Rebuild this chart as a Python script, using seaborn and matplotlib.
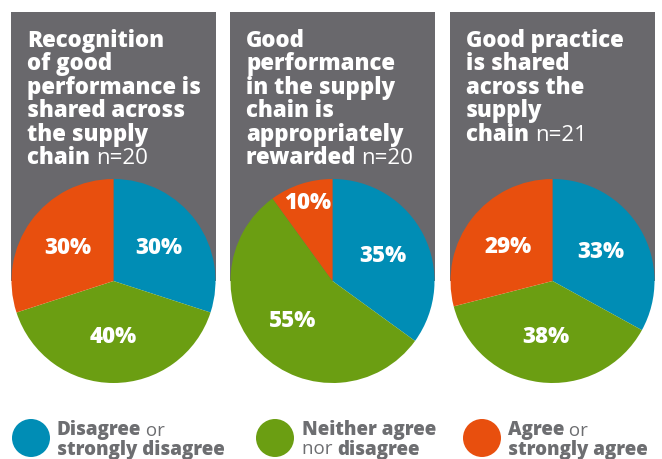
import numpy as np
import matplotlib
matplotlib.use("Agg")
import matplotlib.pyplot as plt
from matplotlib.patches import Rectangle, Ellipse
import seaborn as sns

# ---- data ----
categories = ["Disagree or strongly disagree", "Neither agree nor disagree", "Agree or strongly agree"]
titles = [
    ["Recognition", "of good", "performance is", "shared across", "the supply", "chain"],
    ["Good", "performance", "in the supply", "chain is", "appropriately", "rewarded"],
    ["Good practice", "is shared", "across the", "supply", "chain"],
]
sample_sizes = [20, 20, 21]
recognition_shared = [30, 40, 30]
performance_rewarded = [35, 55, 10]
practice_shared = [33, 38, 29]
panel_values = [recognition_shared, performance_rewarded, practice_shared]

colors = ["#008db5", "#6b9e12", "#e84f0e"]
panel_gray = "#69686c"
text_gray = "#6d6e71"

sns.set_theme(style="white")
plt.rcParams["font.family"] = ["Open Sans", "DejaVu Sans"]

W, H = 662, 459
fig = plt.figure(figsize=(W / 100, H / 100), dpi=100)
fig.patch.set_facecolor("white")
renderer = fig.canvas.get_renderer()


def fx(x):
    return x / W


def fy(y):
    return 1 - y / H


def runs(x, y, parts, size, color):
    """Draw a line made of (text, weight) runs starting at pixel x, baseline y."""
    cur = x
    for txt, weight in parts:
        t = fig.text(fx(cur), fy(y), txt, fontsize=size, fontweight=weight,
                     color=color, ha="left", va="baseline", zorder=5)
        bb = t.get_window_extent(renderer)
        cur += bb.width


panel_x = [11, 230, 450]
panel_w = 205
panel_top = 12
center_y = 281
radius = 102

for i, vals in enumerate(panel_values):
    x0 = panel_x[i]
    fig.add_artist(Rectangle((fx(x0), fy(center_y)), panel_w / W, (center_y - panel_top) / H,
                             transform=fig.transFigure, facecolor=panel_gray,
                             edgecolor="none", zorder=-5))
    # title
    tx = x0 + 16
    base = 47
    lines = titles[i]
    for j, line in enumerate(lines):
        yb = base + j * 23.4
        if j == len(lines) - 1:
            runs(tx, yb, [(line + " ", "heavy"), (f"n={sample_sizes[i]}", "normal")], 16, "white")
        else:
            runs(tx, yb, [(line, "heavy")], 16, "white")

    # pie
    cx = x0 + panel_w / 2
    ax = fig.add_axes([fx(cx - radius), fy(center_y + radius), 2 * radius / W, 2 * radius / H])
    ax.patch.set_visible(False)
    wedges, _ = ax.pie(vals, colors=colors, startangle=90, counterclock=False,
                       radius=1, wedgeprops=dict(linewidth=0))
    total = sum(vals)
    for w, v in zip(wedges, vals):
        mid = np.deg2rad((w.theta1 + w.theta2) / 2)
        d = 0.55 if v / total >= 0.15 else 0.8
        ax.text(d * np.cos(mid), d * np.sin(mid), f"{v}%", ha="center", va="center",
                fontsize=16, fontweight="heavy", color="white")
    ax.set_xlim(-1, 1)
    ax.set_ylim(-1, 1)
    ax.set_aspect("equal")
    ax.axis("off")

# legend
legend_items = [
    (31, 57, [[("Disagree", "heavy"), (" or", "normal")], [("strongly disagree", "heavy")]]),
    (275, 302, [[("Neither agree", "heavy")], [("nor ", "normal"), ("disagree", "heavy")]]),
    (482, 508, [[("Agree", "heavy"), (" or", "normal")], [("strongly agree", "heavy")]]),
]
for k, (cxl, txl, lines) in enumerate(legend_items):
    fig.add_artist(Ellipse((fx(cxl), fy(438)), 38 / W, 38 / H, transform=fig.transFigure,
                           facecolor=colors[k], edgecolor="none"))
    runs(txl, 435.5, lines[0], 13.5, text_gray)
    runs(txl, 454.5, lines[1], 13.5, text_gray)

fig.savefig("out.png", dpi=100, facecolor="white")
